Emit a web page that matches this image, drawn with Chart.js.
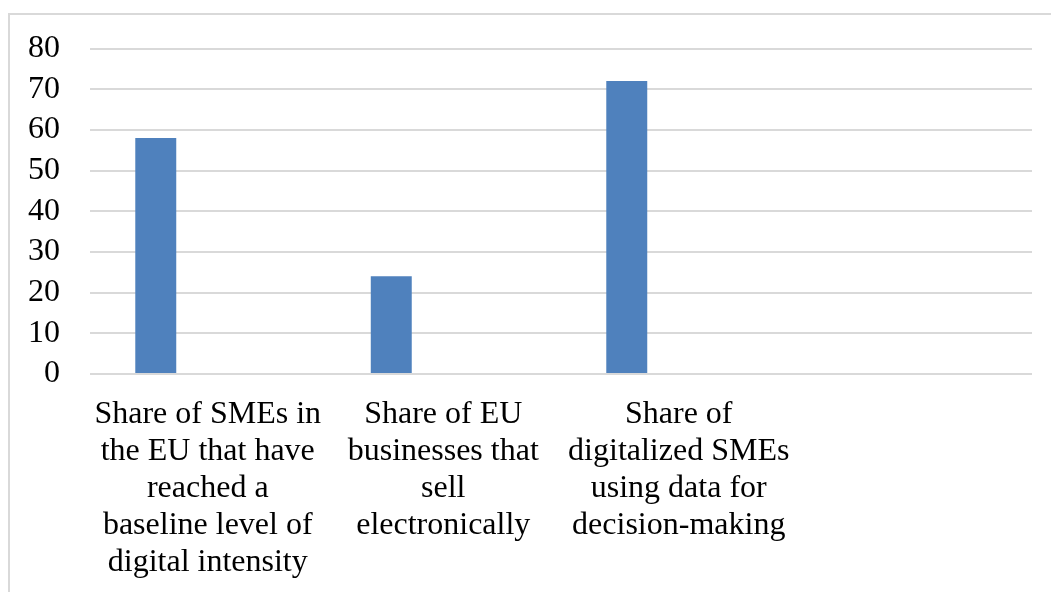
<!DOCTYPE html>
<html>
<head>
    <title>SME digitalisation</title>
    <script src="https://cdn.jsdelivr.net/npm/chart.js"></script>
    <style>
        body { margin: 0; background: #fff; overflow: hidden; }
        #frame { position: absolute; left: 8px; top: 13px; width: 1100px; height: 640px; border: 2px solid #d9d9d9; }
        #wrap { position: absolute; left: 0; top: 0; width: 1051px; height: 592px; }
    </style>
</head>
<body>
    <div id="frame"></div>
    <div id="wrap"><canvas id="Chart" width="1051" height="592"></canvas></div>
    <script>
        // categories (pre-wrapped like the original), 4th slot is empty
        var categories = [
            ['Share of SMEs in', 'the EU that have', 'reached a', 'baseline level of', 'digital intensity'],
            ['Share of EU', 'businesses that', 'sell', 'electronically'],
            ['Share of', 'digitalized SMEs', 'using data for', 'decision-making'],
            ''
        ];
        var shares = [58, 24, 72, null];
        var emptySeries = [null, null, null, null];
        var yTicks = [0, 10, 20, 30, 40, 50, 60, 70, 80];

        var font = { family: "'Liberation Serif', 'DejaVu Serif', serif", size: 32, lineHeight: '37px' };

        var ctx = document.getElementById('Chart').getContext('2d');
        var chart = new Chart(ctx, {
            type: 'bar',
            data: {
                labels: categories,
                datasets: [{
                    label: 'Share',
                    data: shares,
                    backgroundColor: '#4f81bd',
                    borderWidth: 0
                }, {
                    label: '',
                    data: emptySeries,
                    backgroundColor: '#c0504d'
                }]
            },
            options: {
                responsive: false,
                animation: false,
                categoryPercentage: 0.883,
                barPercentage: 0.394,
                layout: { padding: { left: 20, right: 19, top: 43, bottom: 0 } },
                plugins: {
                    legend: { display: false },
                    tooltip: { enabled: false }
                },
                scales: {
                    x: {
                        grid: { display: false },
                        border: { display: false },
                        ticks: { color: '#000', font: font, padding: 14, maxRotation: 0, autoSkip: false },
                        afterFit: function (scale) { scale.height = 218; }
                    },
                    y: {
                        min: 0,
                        max: 80,
                        afterBuildTicks: function (scale) {
                            scale.ticks = yTicks.map(function (v) { return { value: v }; });
                        },
                        grid: { color: '#d9d9d9', lineWidth: 2, drawTicks: false },
                        border: { display: false },
                        ticks: { color: '#000', font: font, padding: 30 },
                        afterFit: function (scale) { scale.width = 70; }
                    }
                }
            }
        });
    </script>
</body>
</html>
